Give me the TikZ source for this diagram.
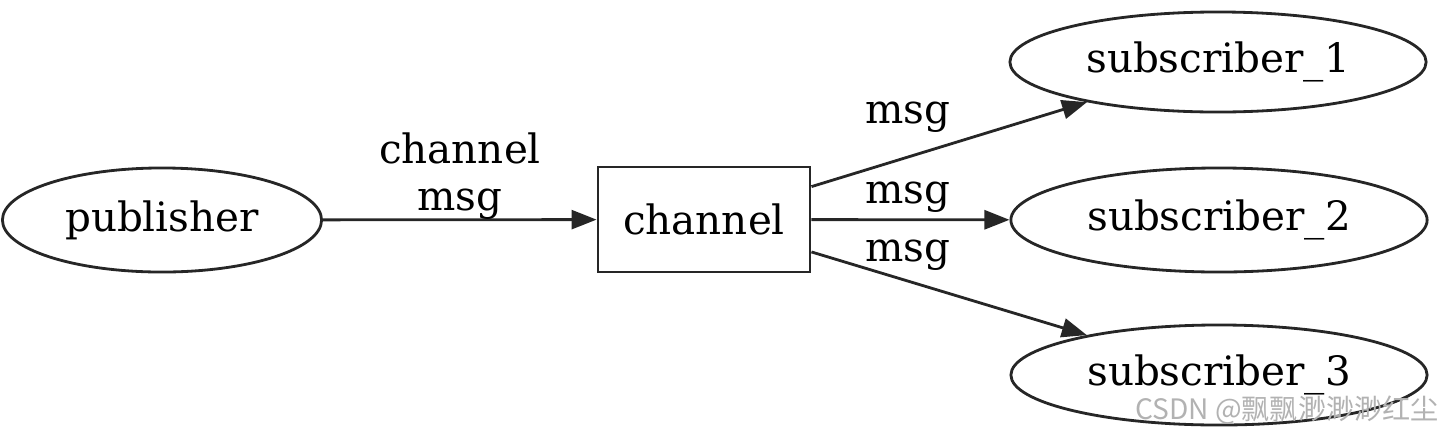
\documentclass[tikz,border=0pt]{standalone}
\usepackage{fontspec}
\setmainfont{DejaVu Serif}
\newfontfamily\cjkfont{Noto Sans CJK SC}
\usetikzlibrary{shapes.geometric,arrows.meta}
\begin{document}
\begin{tikzpicture}[x=0.01cm,y=-0.01cm,
  every node/.style={font=\fontsize{11.5}{13.5}\selectfont},
  ell/.style={draw=black!85, ellipse, line width=0.8pt, inner sep=0pt},
  box/.style={draw=black!85, rectangle, line width=0.8pt, inner sep=0pt, minimum width=2.12cm, minimum height=1.05cm},
  edge/.style={draw=black!85, line width=0.8pt, -{Triangle[length=0.25cm,width=0.19cm]}},
  lbl/.style={inner sep=0pt, align=center}]
\useasboundingbox (0,0) rectangle (1437,436);
\node[ell, minimum width=3.19cm, minimum height=1.04cm] (pub) at (162,220) {publisher};
\node[box] (ch) at (704,219.5) {channel};
\node[ell, minimum width=4.16cm, minimum height=1.0cm] (s1) at (1218,62) {subscriber\_1};
\node[ell, minimum width=4.16cm, minimum height=1.04cm] (s2) at (1219,220) {subscriber\_2};
\node[ell, minimum width=4.16cm, minimum height=1.0cm] (s3) at (1219,375) {subscriber\_3};
\draw[edge] (pub) -- (ch);
\draw[edge] (ch) -- (s1);
\draw[edge] (ch) -- (s2);
\draw[edge] (ch) -- (s3);
\node[lbl] (l0) at (460,176) {channel\\msg};
\node[lbl] (l1) at (908,117) {msg};
\node[lbl] (l2) at (908,197) {msg};
\node[lbl] (l3) at (908,255) {msg};
\node[inner sep=0pt, text=black!30, font=\cjkfont\fontsize{8}{10}\selectfont] (wm) at (1287,410) {CSDN @飘飘渺渺渺红尘};
\end{tikzpicture}
\end{document}
